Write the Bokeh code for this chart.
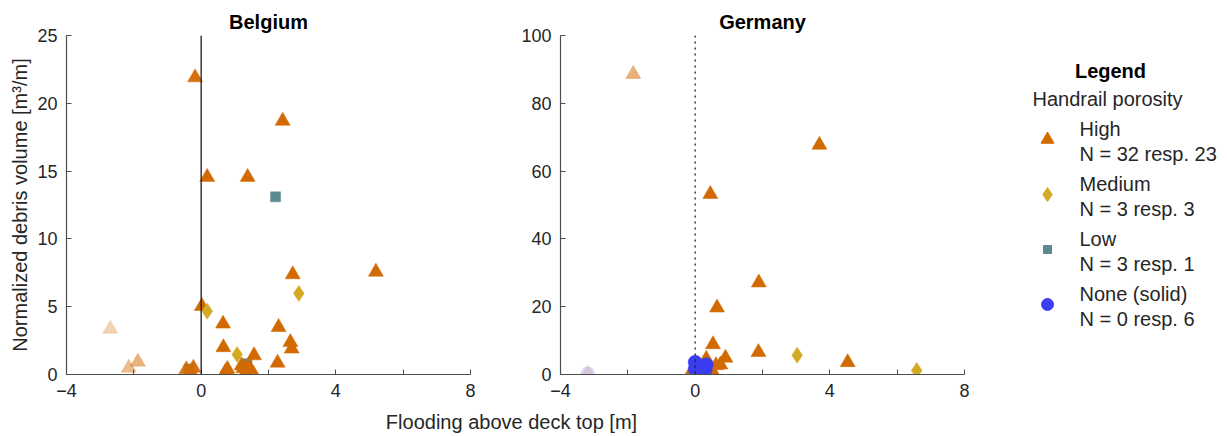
import numpy as np
from bokeh.plotting import figure
from bokeh.layouts import row, column
from bokeh.models import ColumnDataSource, Range1d, FixedTicker, Span
from bokeh.core.properties import value
from bokeh.embed import file_html
from bokeh.resources import INLINE

# ---- Belgium: flooding above deck top [m] vs normalized debris volume [m3/m]
be_high_x = [-0.18, 2.42, 0.18, 1.38, 2.72, 5.19, 0.02, 0.65, 2.30, -2.70,
             2.65, 2.69, 0.66, 1.57, -1.88, -2.15, 2.27, 1.20, 1.45, 0.74,
             1.38, 1.50, -0.23, -0.44, 1.25, 1.40, 0.70, 1.55, 1.30, -0.30,
             0.78, 1.45]
be_high_y = [21.9, 18.7, 14.56, 14.56, 7.38, 7.57, 5.04, 3.74, 3.49, 3.37,
             2.38, 1.90, 2.00, 1.40, 0.93, 0.49, 0.86, 0.66, 0.37, 0.24,
             0.12, 0.20, 0.49, 0.37, 0.45, 0.60, 0.10, 0.05, 0.05, 0.20,
             0.40, 0.25]
be_med_x = [2.90, 0.18, 1.07]
be_med_y = [5.98, 4.67, 1.47]
be_low_x = [2.21, 1.36, -0.36]
be_low_y = [13.1, 0.80, 0.40]
be_none_x = []
be_none_y = []

# ---- Germany
de_high_x = [-1.84, 3.69, 0.45, 1.89, 0.65, 0.53, 1.88, 4.53, 0.90, 0.33,
             0.75, 0.62, -0.12, -3.19, 0.10, 0.20, 0.30, 0.40, 0.15, 0.50,
             0.25, 0.05, 0.35]
de_high_y = [88.6, 67.7, 53.2, 27.1, 19.7, 8.9, 6.6, 3.6, 4.9, 4.6,
             2.9, 2.7, 0.6, 0.3, 1.0, 2.0, 0.8, 1.6, 0.3, 1.2,
             3.0, 2.2, 0.2]
de_med_x = [3.03, 6.58, 0.05]
de_med_y = [5.7, 1.2, 0.4]
de_low_x = [0.20]
de_low_y = [1.0]
de_none_x = [-3.19, 0.00, 0.00, 0.33, 0.30, 0.18]
de_none_y = [0.2, 3.6, 1.6, 2.9, 1.5, 2.3]

categories = ["High", "Medium", "Low", "None (solid)"]
x_ticks = [-4, 0, 4, 8]
x_minor_ticks = [-2, 2, 6]
be_y_ticks = [0, 5, 10, 15, 20, 25]
de_y_ticks = [0, 20, 40, 60, 80, 100]

FONT = "Liberation Sans"
AXIS_GREY = "#4d4d4d"
TEXT_GREY = "#262626"
LABEL_SIZE = "20px"
TICK_SIZE = "18px"

# vertical frame geometry shared by every plot in the top row
FRAME_TOP = 35
FRAME_H = 339
BOTTOM_B = 31
TOP_H = FRAME_TOP + FRAME_H + BOTTOM_B

# the svg backend draws "alphabetic" text a few pixels low; compensate
TEXT_LIFT = 8

STYLE = {
    "High": dict(marker="triangle", color="#D26A02", size=15),
    "Medium": dict(marker="diamond", color="#D4AA24", size=16),
    "Low": dict(marker="square", color="#5B8A8F", size=10),
    "None (solid)": dict(marker="circle", color="#3C3CF2", size=14),
}
DRAW_ORDER = ["Low", "High", "Medium", "None (solid)"]


def fade(xs):
    # points far on the negative (dry) side are drawn more transparent
    return np.clip(1.0 + 0.26 * np.asarray(xs, dtype=float), 0.15, 1.0)


def make_panel(title, series, y_max, y_ticks, span_dash, ylabel,
               border_left, border_right):
    p = figure(frame_width=404, frame_height=FRAME_H,
               x_range=Range1d(-4, 8), y_range=Range1d(0, y_max),
               output_backend="svg", toolbar_location=None,
               min_border_left=border_left, min_border_right=border_right,
               min_border_top=FRAME_TOP, min_border_bottom=BOTTOM_B)
    p.outline_line_color = None
    p.xgrid.visible = False
    p.ygrid.visible = False
    p.background_fill_color = "white"
    p.border_fill_color = "white"

    p.title.text = title
    p.title.align = "center"
    p.title.text_font = FONT
    p.title.text_font_size = "20px"
    p.title.text_font_style = "bold"
    p.title.text_color = "black"
    p.title.standoff = 6

    p.xaxis.ticker = FixedTicker(ticks=x_ticks, minor_ticks=x_minor_ticks)
    p.yaxis.ticker = FixedTicker(ticks=y_ticks)
    for ax in (p.xaxis, p.yaxis):
        ax.axis_line_color = AXIS_GREY
        ax.axis_line_width = 1.2
        ax.major_tick_line_color = AXIS_GREY
        ax.major_tick_in = 5
        ax.major_tick_out = 0
        ax.minor_tick_line_color = AXIS_GREY
        ax.minor_tick_in = 5
        ax.minor_tick_out = 0
        ax.major_label_text_font = FONT
        ax.major_label_text_font_size = TICK_SIZE
        ax.major_label_text_color = TEXT_GREY
    p.xaxis.major_label_standoff = 9
    p.yaxis.major_label_standoff = 9
    p.yaxis.minor_tick_line_color = None
    if ylabel:
        p.yaxis.axis_label = ylabel
        p.yaxis.axis_label_text_font = FONT
        p.yaxis.axis_label_text_font_size = LABEL_SIZE
        p.yaxis.axis_label_text_font_style = "normal"
        p.yaxis.axis_label_text_color = TEXT_GREY
        p.yaxis.axis_label_standoff = 3

    p.add_layout(Span(location=0, dimension="height", line_color="#1a1a1a",
                      line_width=1.3, line_dash=span_dash))

    for cat in DRAW_ORDER:
        xs, ys = series[cat]
        if not xs:
            continue
        st = STYLE[cat]
        src = ColumnDataSource(dict(x=xs, y=ys, a=fade(xs)))
        p.scatter("x", "y", source=src, marker=st["marker"], size=st["size"],
                  fill_color=st["color"], line_color=st["color"],
                  fill_alpha="a", line_alpha="a", line_width=0.5)
    return p


be_series = {"High": (be_high_x, be_high_y), "Medium": (be_med_x, be_med_y),
             "Low": (be_low_x, be_low_y), "None (solid)": (be_none_x, be_none_y)}
de_series = {"High": (de_high_x, de_high_y), "Medium": (de_med_x, de_med_y),
             "Low": (de_low_x, de_low_y), "None (solid)": (de_none_x, de_none_y)}

p_be = make_panel("Belgium", be_series, 25, be_y_ticks, "solid",
                  "Normalized debris volume [m\u00b3/m]", 66, 30)
p_de = make_panel("Germany", de_series, 100, de_y_ticks, "dotted",
                  None, 60, 26)


def page_canvas(x0, x1, y0, y1, top, bottom):
    # axis-free figure whose data coordinates are page pixels (y downward)
    c = figure(frame_width=x1 - x0, frame_height=y1 - y0,
               x_range=Range1d(x0, x1), y_range=Range1d(y1, y0),
               x_axis_type=None, y_axis_type=None, title=None,
               output_backend="svg", toolbar_location=None,
               min_border_left=0, min_border_right=0,
               min_border_top=top, min_border_bottom=bottom)
    c.outline_line_color = None
    c.xgrid.visible = False
    c.ygrid.visible = False
    return c


def put_text(canvas, xs, baselines, lines, **kw):
    canvas.text(x=xs, y=[b - TEXT_LIFT for b in baselines], text=lines,
                text_font=value(FONT), text_font_size=LABEL_SIZE,
                text_baseline="alphabetic", **kw)


# ---- legend panel, sharing the frame rows of the two panels
lg = page_canvas(990, 1227, FRAME_TOP, FRAME_TOP + FRAME_H,
                 FRAME_TOP, BOTTOM_B)
put_text(lg, [1110], [78], ["Legend"], text_font_style="bold",
         text_color="black", text_align="center")
put_text(lg, [1032], [106], ["Handrail porosity"], text_color=TEXT_GREY,
         text_align="left")

name_base = [136, 191, 246, 301]
name_lines, count_lines = [], []
for cat in categories:
    n_be = len(be_series[cat][0])
    n_de = len(de_series[cat][0])
    name_lines.append(cat)
    count_lines.append(f"N = {n_be} resp. {n_de}")

put_text(lg, [1079] * 4, name_base, name_lines, text_color=TEXT_GREY,
         text_align="left")
put_text(lg, [1079] * 4, [v + 25 for v in name_base], count_lines,
         text_color=TEXT_GREY, text_align="left")
lg.scatter(x=[1047] * 4, y=[v + 3 for v in name_base],
           marker=[STYLE[c]["marker"] for c in categories],
           size=[STYLE[c]["size"] - 2 for c in categories],
           fill_color=[STYLE[c]["color"] for c in categories],
           line_color=[STYLE[c]["color"] for c in categories])

# ---- shared x-axis title strip
strip = page_canvas(0, 1227, TOP_H, 436, 0, 0)
put_text(strip, [511], [429], ["Flooding above deck top [m]"],
         text_color=TEXT_GREY, text_align="center")

layout = column(row(p_be, p_de, lg, spacing=0), strip, spacing=0)

open("out.html", "w").write(file_html(layout, INLINE))
